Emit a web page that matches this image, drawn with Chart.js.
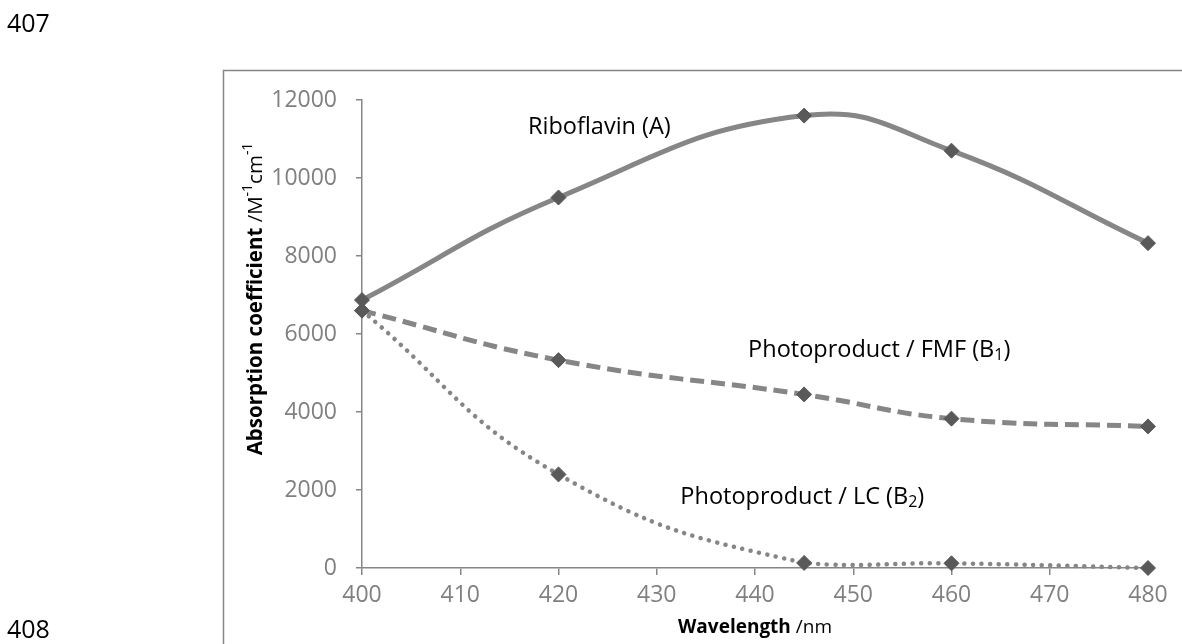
<!DOCTYPE html>
<html>
<head>
<meta charset="utf-8">
<script src="https://cdn.jsdelivr.net/npm/chart.js@4.4.1/dist/chart.umd.min.js"></script>
<style>
  html, body { margin: 0; padding: 0; background: #fff; }
  #wrap { position: relative; width: 1182px; height: 644px; overflow: hidden; }
</style>
</head>
<body>
<div id="wrap"><canvas id="spectra" width="1182" height="644"></canvas></div>
<script>
// Wavelengths (nm) and absorption coefficients (M^-1 cm^-1)
const wavelengths = [400, 420, 445, 460, 480];
const riboflavin = [6870, 9500, 11600, 10700, 8330];
const fmf = [6600, 5330, 4450, 3830, 3630];
const lc = [6600, 2400, 130, 120, 0];

const xTicks = { min: 400, max: 480, step: 10 };
const yTicks = { min: 0, max: 12000, step: 2000 };

const GREY_LINE = '#868686';
const GREY_TEXT = '#808080';
const MARKER = '#595959';
const FONT = '"Open Sans", "Noto Sans", sans-serif';

const toPoints = values => values.map((v, i) => ({ x: wavelengths[i], y: v }));

function series(label, values, dash, width, cap) {
    return {
        label: label,
        data: toPoints(values),
        borderColor: GREY_LINE,
        borderWidth: width,
        borderDash: dash,
        borderCapStyle: cap,
        tension: 0.45,
        pointStyle: 'rectRot',
        pointRadius: 7.5,
        pointBackgroundColor: MARKER,
        pointBorderColor: MARKER,
        pointBorderWidth: 1,
        clip: false
    };
}

// Draws a row of text pieces (some as sub/superscripts), returns the end x
function drawRuns(ctx, runs, x, y, size) {
    runs.forEach(r => {
        const s = r.script ? size * 0.68 : size;
        ctx.font = `${r.bold ? 'bold ' : ''}${s}px ${FONT}`;
        const dy = r.script === 'sup' ? -size * 0.38 : r.script === 'sub' ? size * 0.24 : 0;
        ctx.fillText(r.text, x, y + dy);
        x += ctx.measureText(r.text).width;
    });
    return x;
}

function runsWidth(ctx, runs, size) {
    let w = 0;
    runs.forEach(r => {
        const s = r.script ? size * 0.68 : size;
        ctx.font = `${r.bold ? 'bold ' : ''}${s}px ${FONT}`;
        w += ctx.measureText(r.text).width;
    });
    return w;
}

// Curve labels, anchored in data units (left edge, vertical middle)
const curveLabels = [
    { x: 416.9, y: 11300, runs: [{ text: 'Riboflavin (A)' }] },
    { x: 439.3, y: 5590, runs: [{ text: 'Photoproduct / FMF (B' }, { text: '1', script: 'sub' }, { text: ')' }] },
    { x: 432.4, y: 1820, runs: [{ text: 'Photoproduct / LC (B' }, { text: '2', script: 'sub' }, { text: ')' }] }
];

const decorations = {
    id: 'decorations',
    beforeDraw(chart) {
        const ctx = chart.ctx;
        ctx.save();
        ctx.fillStyle = '#fff';
        ctx.fillRect(0, 0, chart.width, chart.height);
        // outer chart frame (runs off the page to the right and bottom)
        ctx.strokeStyle = GREY_LINE;
        ctx.lineWidth = 1.5;
        ctx.strokeRect(223.5, 70.5, 1200, 700);
        // page line numbers
        ctx.fillStyle = '#000';
        ctx.font = `25px ${FONT}`;
        ctx.textBaseline = 'middle';
        ctx.fillText('407', 7, 25);
        ctx.fillText('408', 7, 631);
        ctx.restore();
    },
    afterDraw(chart) {
        const ctx = chart.ctx;
        const xs = chart.scales.x, ys = chart.scales.y;
        ctx.save();
        ctx.fillStyle = '#000';
        ctx.textBaseline = 'middle';
        ctx.textAlign = 'left';
        curveLabels.forEach(l => {
            drawRuns(ctx, l.runs, xs.getPixelForValue(l.x), ys.getPixelForValue(l.y), 23.5);
        });

        // x axis title
        const xRuns = [{ text: 'Wavelength', bold: true }, { text: ' /nm' }];
        const xw = runsWidth(ctx, xRuns, 19);
        drawRuns(ctx, xRuns, (chart.chartArea.left + chart.chartArea.right) / 2 - xw / 2, 628, 19);

        // y axis title, rotated
        const yRuns = [
            { text: 'Absorption coefficient', bold: true },
            { text: ' /M' }, { text: '-1', script: 'sup' },
            { text: 'cm' }, { text: '-1', script: 'sup' }
        ];
        const yw = runsWidth(ctx, yRuns, 20.5);
        ctx.translate(256, 299);
        ctx.rotate(-Math.PI / 2);
        drawRuns(ctx, yRuns, -yw / 2, 0, 20.5);
        ctx.restore();
    }
};

new Chart(document.getElementById('spectra'), {
    type: 'line',
    data: {
        datasets: [
            series('Riboflavin (A)', riboflavin, [], 5, 'butt'),
            series('Photoproduct / FMF (B1)', fmf, [14, 7], 5, 'butt'),
            series('Photoproduct / LC (B2)', lc, [0.1, 8.5], 4.5, 'round')
        ]
    },
    options: {
        responsive: false,
        animation: false,
        layout: { padding: { top: 100, right: 34, bottom: 0, left: 0 } },
        plugins: {
            legend: { display: false },
            tooltip: { enabled: false }
        },
        scales: {
            x: {
                type: 'linear',
                min: xTicks.min,
                max: xTicks.max,
                ticks: {
                    stepSize: xTicks.step,
                    color: GREY_TEXT,
                    padding: 7,
                    font: { family: FONT, size: 23 },
                    callback: v => String(v)
                },
                grid: { drawOnChartArea: false, color: GREY_LINE, lineWidth: 1.5, tickLength: 7 },
                border: { color: GREY_LINE, width: 1.5 },
                afterFit(scale) { scale.height = 76; }
            },
            y: {
                min: yTicks.min,
                max: yTicks.max,
                ticks: {
                    stepSize: yTicks.step,
                    color: GREY_TEXT,
                    padding: 19,
                    font: { family: FONT, size: 23 },
                    callback: v => String(v)
                },
                grid: { drawOnChartArea: false, color: GREY_LINE, lineWidth: 1.5, tickLength: 6 },
                border: { color: GREY_LINE, width: 1.5 },
                afterFit(scale) { scale.width = 362; }
            }
        }
    },
    plugins: [decorations]
});
</script>
</body>
</html>
